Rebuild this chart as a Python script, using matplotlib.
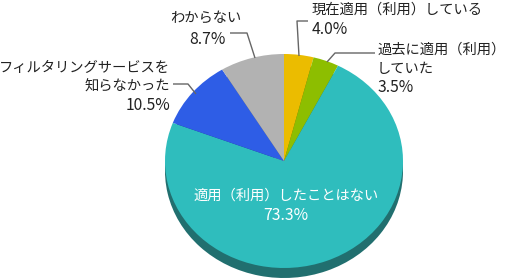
import matplotlib.pyplot as plt
import numpy as np

plt.rcParams['font.family'] = ['Noto Sans CJK JP', 'DejaVu Sans']

# データ（上から時計回り）
labels = ['現在適用（利用）している', '過去に適用（利用）していた', '適用（利用）したことはない',
          'フィルタリングサービスを知らなかった', 'わからない']
values = [4.0, 3.5, 73.3, 10.5, 8.7]
colors = ['#EBBC00', '#8DBE00', '#2FBDBD', '#2E5DE6', '#B2B2B2']
side_colors = ['#8a6e00', '#52700a', '#216F6F', '#1b3a8a', '#6a6a6a']

W, H = 505, 279
cx, cy = 284, 161      # 円の中心（ピクセル）
rx, ry = 119, 107      # 楕円の半径
depth = 10             # 厚み

fig = plt.figure(figsize=(W / 100, H / 100), dpi=100)
ax = fig.add_axes([0, 0, 1, 1])

# 側面（下にずらした暗い円）
ax.pie(values, colors=side_colors, startangle=90, counterclock=False,
       center=(0, -depth / ry), radius=1, wedgeprops=dict(linewidth=0))
# 上面
ax.pie(values, colors=colors, startangle=90, counterclock=False,
       center=(0, 0), radius=1, wedgeprops=dict(linewidth=0))
ax.set_aspect('auto')
ax.set_xlim(-cx / rx, (W - cx) / rx)
ax.set_ylim(-(H - cy) / ry, cy / ry)
ax.axis('off')

# ラベル・引き出し線用のピクセル座標軸
ov = fig.add_axes([0, 0, 1, 1])
ov.set_xlim(0, W)
ov.set_ylim(H, 0)
ov.axis('off')
ov.patch.set_alpha(0)

fs = 10.3
fp = 11.3   # パーセント表示
tc = '#222222'
lc = '#666666'

def leader(xs, ys):
    ov.plot(xs, ys, color=lc, lw=1.0, solid_capstyle='butt')

# 現在適用
ov.text(312, 10, '現在適用（利用）している', fontsize=fs, color=tc, ha='left', va='center')
ov.text(312, 29, f'{values[0]:.1f}%', fontsize=fp, color=tc, ha='left', va='center')
leader([308, 297, 299], [21, 21, 56])

# 過去に適用
ov.text(377, 50, '過去に適用（利用）', fontsize=fs, color=tc, ha='left', va='center')
ov.text(377, 69, 'していた', fontsize=fs, color=tc, ha='left', va='center')
ov.text(378, 88, f'{values[1]:.1f}%', fontsize=fp, color=tc, ha='left', va='center')
leader([375, 335, 327], [53, 53, 62])

# わからない
ov.text(206, 18, 'わからない', fontsize=fs, color=tc, ha='center', va='center')
ov.text(207, 40, f'{values[4]:.1f}%', fontsize=fp, color=tc, ha='center', va='center')
leader([230, 247, 255], [33, 33, 58])

# 知らなかった
ov.text(170, 68, 'フィルタリングサービスを', fontsize=fs, color=tc, ha='right', va='center')
ov.text(170, 87, '知らなかった', fontsize=fs, color=tc, ha='right', va='center')
ov.text(170, 105, f'{values[3]:.1f}%', fontsize=fp, color=tc, ha='right', va='center')
leader([173, 188, 196], [84, 84, 94])

# 中央ラベル
ov.text(286, 196, '適用（利用）したことはない', fontsize=fs, color='white', ha='center', va='center')
ov.text(286, 216, f'{values[2]:.1f}%', fontsize=fp, color='white', ha='center', va='center')

fig.savefig('out.png', dpi=100)
